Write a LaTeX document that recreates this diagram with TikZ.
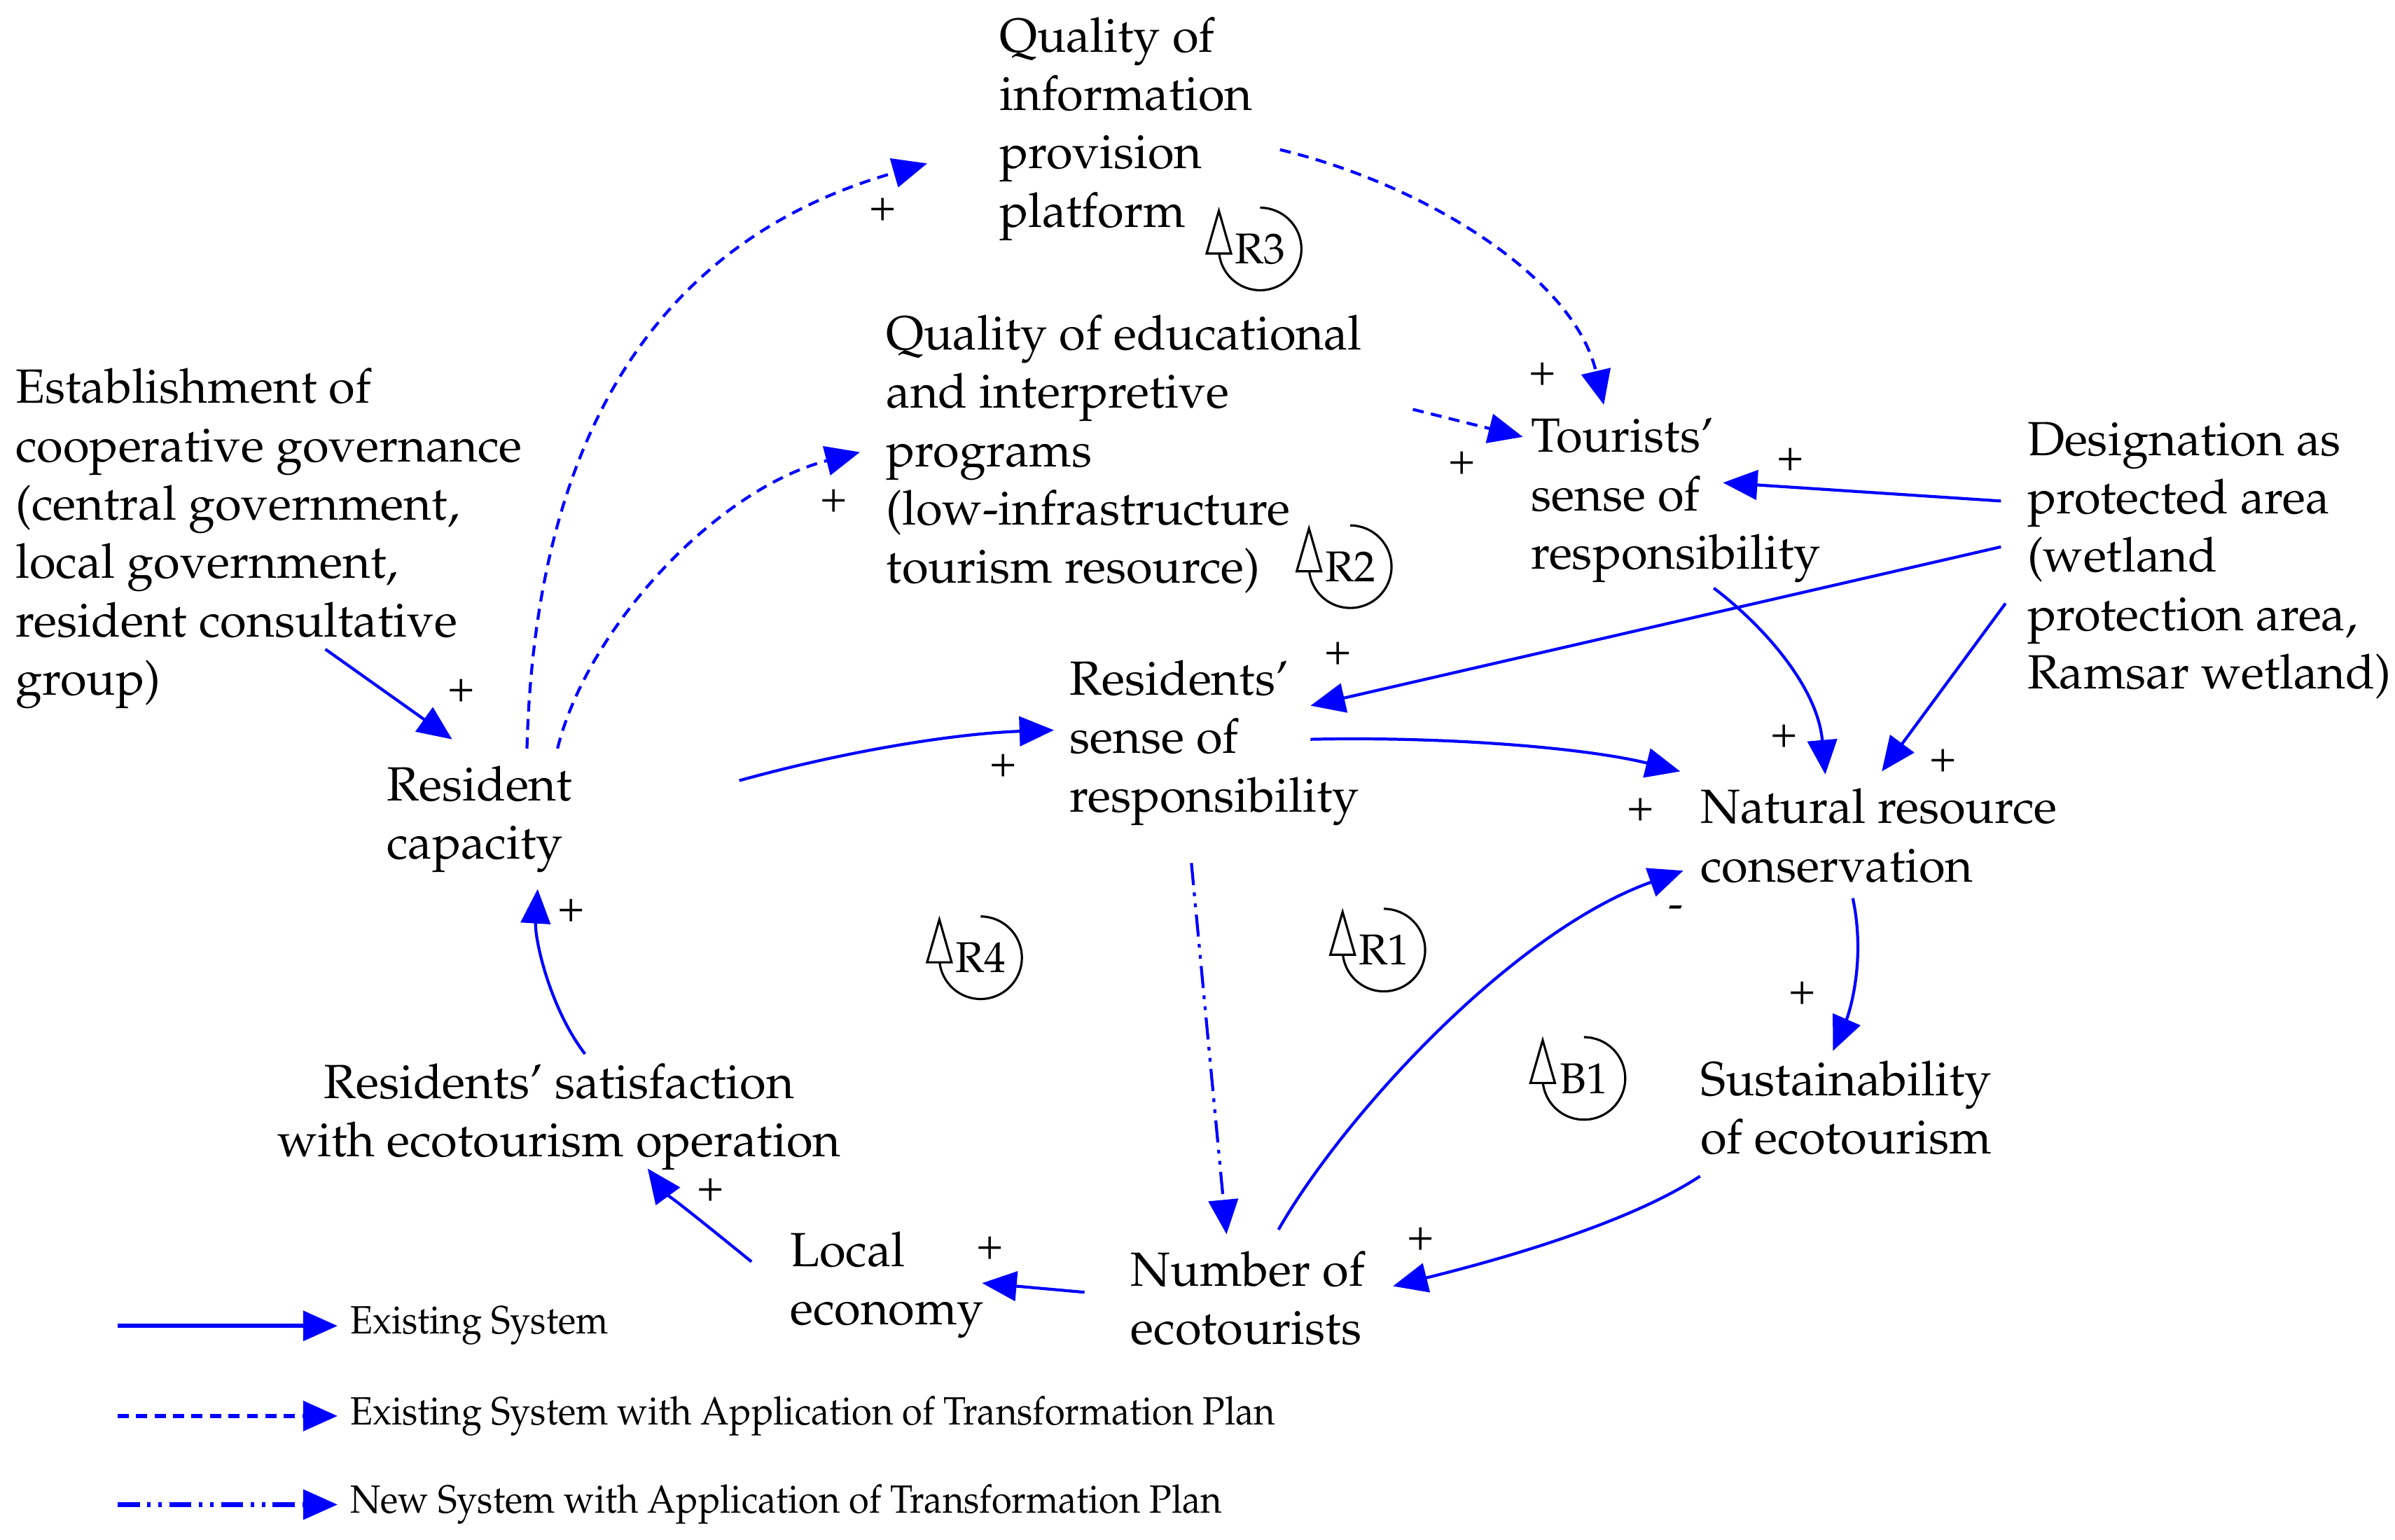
\documentclass[tikz,border=0pt]{standalone}
\usepackage[T1]{fontenc}
\usepackage{mathpazo}
\usetikzlibrary{arrows.meta,calc}
\definecolor{cblue}{RGB}{0,0,255}
\newcommand\drawloop[1]{%
  \draw[loopline] ([yshift=0.589cm]#1.center) arc[start angle=90,end angle=-186,radius=0.589cm];
  \draw[loopline,fill=white] ([shift={(-0.764cm,-0.065cm)}]#1.center) -- ([shift={(-0.414cm,-0.065cm)}]#1.center) -- ([shift={(-0.589cm,0.545cm)}]#1.center) -- cycle;}
\begin{document}
\begin{tikzpicture}[x=0.02181cm,y=-0.02181cm,
  txt/.style={inner xsep=0pt,inner ysep=1.86pt,anchor=north west,align=left,font=\fontsize{19.5}{23.7}\selectfont},
  sgn/.style={inner sep=0pt,font=\fontsize{18}{20}\selectfont},
  looplab/.style={inner sep=0pt,font=\fontsize{17.5}{20}\selectfont},
  loopline/.style={draw=black,line width=0.9pt},
  legtxt/.style={inner sep=0pt,anchor=west,font=\fontsize{16}{19}\selectfont},
  lnk/.style={draw=cblue,line width=1.2pt,-{Triangle[length=14pt,width=12pt]}},
  dsh/.style={lnk,dash pattern=on 4.5pt off 3pt},
  ndd/.style={lnk,dash pattern=on 9pt off 3pt on 1.5pt off 3pt on 1.5pt off 3pt},
  leglnk/.style={line width=1.8pt}]
\useasboundingbox (0,0) rectangle (1568,1008);

\node[txt] (qip) at (654,8) {Quality of\\information\\provision\\platform};
\node[txt] (qep) at (580,203) {Quality of educational\\and interpretive\\programs\\(low-infrastructure\\tourism resource)};
\node[txt] (est) at (10,238) {Establishment of\\cooperative governance\\(central government,\\local government,\\resident consultative\\group)};
\node[txt] (tsr) at (1002,271) {Tourists'\\sense of\\responsibility};
\node[txt] (dpa) at (1327,273) {Designation as\\protected area\\(wetland\\protection area,\\Ramsar wetland)};
\node[txt] (rsr) at (700,429) {Residents'\\sense of\\responsibility};
\node[txt] (rc) at (253,498) {Resident\\capacity};
\node[txt] (nrc) at (1113,513) {Natural resource\\conservation};
\node[txt] (sus) at (1113,691) {Sustainability\\of ecotourism};
\node[txt,anchor=north,align=center] (sat) at (366,693) {Residents' satisfaction\\with ecotourism operation};
\node[txt] (le) at (517,803) {Local\\economy};
\node[txt] (ne) at (740,816) {Number of\\ecotourists};

% connectors
\draw[dsh] ($(rc.north west)+(92,-8)$) .. controls (350,300) and (420,160) .. ($(qip.north west)+(-47,99)$);
\draw[dsh] ($(rc.north west)+(112,-8)$) .. controls (385,410) and (470,320) .. ($(qep.north west)+(-17,93)$);
\draw[dsh] ($(qip.north west)+(184,90)$) .. controls (930,120) and (1030,180) .. ($(tsr.north west)+(48,-6)$);
\draw[dsh] ($(qep.north west)+(345,65)$) -- ($(tsr.north west)+(-5,15)$);
\draw[lnk] ($(dpa.north west)+(-17,55)$) -- ($(tsr.north west)+(126,45)$);
\draw[lnk] ($(dpa.north west)+(-17,85)$) -- ($(rsr.north west)+(158,33)$);
\draw[lnk] ($(dpa.north west)+(-14,122)$) -- ($(nrc.north west)+(119,-8)$);
\draw[lnk] ($(tsr.north west)+(120,114)$) .. controls (1155,410) and (1190,450) .. ($(nrc.north west)+(82,-6)$);
\draw[lnk] ($(rsr.north west)+(158,55)$) .. controls (950,482) and (1040,490) .. ($(nrc.north west)+(-13,-8)$);
\draw[lnk] ($(rc.north west)+(231,13)$) .. controls (560,490) and (630,480) .. ($(rsr.north west)+(-10,49)$);
\draw[lnk] ($(est.north west)+(203,187)$) -- ($(rc.north west)+(43,-14)$);
\draw[ndd] ($(rsr.north west)+(80,136)$) -- ($(ne.north west)+(63,-8)$);
\draw[lnk] ($(ne.north west)+(97,-11)$) .. controls (880,730) and (990,610) .. ($(nrc.north west)+(-11,57)$);
\draw[lnk] ($(nrc.north west)+(100,75)$) .. controls (1222,630) and (1210,665) .. ($(sus.north west)+(87,-3)$);
\draw[lnk] ($(sus.north west)+(0,79)$) .. controls (1060,805) and (960,830) .. ($(ne.north west)+(172,26)$);
\draw[lnk] ($(ne.north west)+(-30,30)$) -- ($(le.north west)+(126,37)$);
\draw[lnk] ($(le.north west)+(-25,23)$) .. controls (460,800) and (435,780) .. ($(sat.north)+(58,72)$);
\draw[lnk] ($(sat.north)+(17,-3)$) .. controls (360,660) and (350,615) .. ($(rc.north west)+(99,84)$);

% polarity signs
\node[sgn] (s1) at (578,137) {+};
\node[sgn] (s2) at (546,328) {+};
\node[sgn] (s3) at (1010,245) {+};
\node[sgn] (s4) at (957,303) {+};
\node[sgn] (s5) at (1172,301) {+};
\node[sgn] (s6) at (876,428) {+};
\node[sgn] (s7) at (1272,498) {+};
\node[sgn] (s8) at (1168,482) {+};
\node[sgn] (s9) at (1074,530) {+};
\node[sgn] (s10) at (657,501) {+};
\node[sgn] (s11) at (302,452) {+};
\node[sgn] (s12) at (1097,597) {-};
\node[sgn] (s13) at (1180,650) {+};
\node[sgn] (s14) at (930,811) {+};
\node[sgn] (s15) at (648,817) {+};
\node[sgn] (s16) at (465,779) {+};
\node[sgn] (s17) at (374,596) {+};

% loop markers
\node[looplab] (R3) at (825,163) {R3};
\node[looplab] (R2) at (884,371) {R2};
\node[looplab] (R4) at (642,627) {R4};
\node[looplab] (R1) at (906,622) {R1};
\node[looplab] (B1) at (1037,706) {B1};
\drawloop{R3}\drawloop{R2}\drawloop{R4}\drawloop{R1}\drawloop{B1}

% legend
\coordinate (la1) at (77,868); \coordinate (lb1) at (221,868);
\coordinate (la2) at (77,927); \coordinate (lb2) at (221,927);
\coordinate (la3) at (77,985); \coordinate (lb3) at (221,985);
\draw[lnk,leglnk] (la1) -- (lb1);
\draw[dsh,leglnk] (la2) -- (lb2);
\draw[ndd,leglnk] (la3) -- (lb3);
\node[legtxt] (lt1) at (229,868) {\scalebox{0.93}[1]{Existing System}};
\node[legtxt] (lt2) at (229,927) {\scalebox{0.93}[1]{Existing System with Application of Transformation Plan}};
\node[legtxt] (lt3) at (229,985) {\scalebox{0.93}[1]{New System with Application of Transformation Plan}};
\end{tikzpicture}
\end{document}
